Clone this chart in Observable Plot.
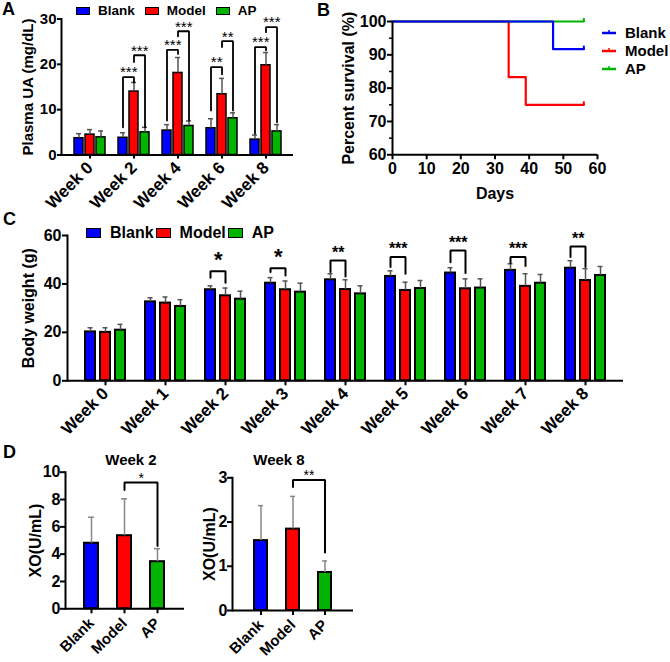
<!DOCTYPE html>
<html><head><meta charset="utf-8">
<script src="https://cdn.jsdelivr.net/npm/d3@7"></script>
<script src="https://cdn.jsdelivr.net/npm/@observablehq/plot@0.6"></script>
<style>
body{margin:0;background:#fff;}
#fig{position:relative;width:670px;height:662px;font-family:"Liberation Sans",Arial,sans-serif;font-weight:bold;color:#000;overflow:hidden;background:#fff}
.leg{display:flex;align-items:center;white-space:nowrap;line-height:1}
.legcol{display:flex;flex-direction:column;white-space:nowrap}
.legcol > div{display:flex;align-items:center;height:18px}
.sw{display:inline-block;box-sizing:border-box;border:1.5px solid #000}
.lab{line-height:1;white-space:nowrap}
</style></head><body><div id="fig"></div>
<script>
// ---------- shared ----------
const groups = ["Blank", "Model", "AP"];
const groupColors = ["#0000ff", "#ff0000", "#00b400"];

// ---------- Panel A: plasma UA ----------
const uaWeeks = ["Week 0", "Week 2", "Week 4", "Week 6", "Week 8"];
const uaBlank = [3.7, 3.8, 5.4, 5.9, 3.4];
const uaBlankSD = [1.0, 1.1, 1.3, 2.1, 1.0];
const uaModel = [4.5, 14.0, 18.1, 13.4, 19.8];
const uaModelSD = [1.1, 2.0, 3.4, 3.5, 2.8];
const uaAP = [3.9, 5.0, 6.4, 8.1, 5.2];
const uaAPSD = [1.4, 1.1, 1.1, 1.2, 1.5];
const uaTicks = [0, 10, 20, 30];
const uaBrWeek = ["Week 2", "Week 2", "Week 4", "Week 4", "Week 6", "Week 6", "Week 8", "Week 8"];
const uaBrFrom = ["Blank", "Model", "Blank", "Model", "Blank", "Model", "Blank", "Model"];
const uaBrTo = ["Model", "AP", "Model", "AP", "Model", "AP", "Model", "AP"];
const uaBrStart = [6.1, 20.5, 7.6, 26.2, 9.8, 23.8, 4.7, 27.1];
const uaBrTop = [17.2, 22.0, 23.2, 27.3, 19.4, 25.1, 23.8, 28.2];
const uaBrEnd = [16.0, 6.1, 22.3, 7.6, 17.8, 9.8, 23.1, 7.2];
const uaBrLabel = ["***", "***", "***", "***", "**", "**", "***", "***"];

// ---------- Panel B: survival ----------
const survBlankDays = [0, 47, 56];
const survBlankPct = [100, 91.7, 91.7];
const survModelDays = [0, 34, 39, 56];
const survModelPct = [100, 83.3, 75, 75];
const survAPDays = [0, 56];
const survAPPct = [100, 100];
const survYTicks = [60, 70, 80, 90, 100];
const survYMinor = [65, 75, 85, 95];
const survXTicks = [0, 10, 20, 30, 40, 50, 60];

// ---------- Panel C: body weight ----------
const bwWeeks = ["Week 0", "Week 1", "Week 2", "Week 3", "Week 4", "Week 5", "Week 6", "Week 7", "Week 8"];
const bwBlank = [20.2, 32.6, 37.6, 40.3, 41.7, 43.1, 44.5, 45.6, 46.5];
const bwBlankSD = [1.7, 1.7, 1.6, 2.3, 2.5, 2.3, 2.2, 2.7, 3.1];
const bwModel = [20.0, 32.1, 35.1, 37.6, 37.7, 37.3, 38.0, 39.0, 41.4];
const bwModelSD = [1.9, 2.5, 3.2, 3.6, 4.0, 3.4, 4.1, 5.2, 4.9];
const bwAP = [20.9, 30.7, 33.7, 36.6, 35.9, 38.1, 38.3, 40.3, 43.5];
const bwAPSD = [2.4, 2.8, 3.3, 3.7, 3.3, 3.3, 3.8, 3.6, 3.7];
const bwTicks = [0, 20, 40, 60];
const bwBrWeek = ["Week 2", "Week 3", "Week 4", "Week 5", "Week 6", "Week 7", "Week 8"];
const bwBrFrom = ["Blank", "Blank", "Blank", "Blank", "Blank", "Blank", "Blank"];
const bwBrTo = ["Model", "Model", "Model", "Model", "Model", "Model", "Model"];
const bwBrStart = [42.6, 44.9, 44.9, 47.0, 49.0, 48.6, 51.1];
const bwBrTop = [45.2, 46.5, 49.7, 51.1, 53.8, 51.1, 55.5];
const bwBrEnd = [40.5, 43.5, 43.1, 44.2, 44.5, 47.4, 47.0];
const bwBrLabel = ["*", "*", "**", "***", "***", "***", "**"];

// ---------- Panel D: XO ----------
const xoW2 = [4.8, 5.35, 3.45];
const xoW2SD = [1.9, 2.7, 0.95];
const xoW2Ticks = [0, 2, 4, 6, 8, 10];
const xoW2Br = {from: "Model", to: "AP", start: 8.7, top: 9.25, end: 4.6, label: "*"};
const xoW8 = [1.58, 1.84, 0.86];
const xoW8SD = [0.79, 0.74, 0.26];
const xoW8Ticks = [0, 1, 2, 3];
const xoW8Br = {from: "Model", to: "AP", start: 2.79, top: 2.95, end: 1.31, label: "**"};

// ---------- helpers ----------
const FONT = '"Liberation Sans", Arial, Helvetica, sans-serif';
const fig = document.getElementById("fig");
function place(el, left, top) { el.style.position = "absolute"; el.style.left = left + "px"; el.style.top = top + "px"; fig.append(el); return el; }
function sty(size) { return {fontFamily: FONT, fontSize: size + "px", fontWeight: "bold", color: "#000", background: "none", overflow: "visible"}; }
const key = (w, g) => w + "|" + g;
function slots(weeks) { const d = []; weeks.forEach((w, i) => { if (i) d.push(key(w, "gap")); groups.forEach(g => d.push(key(w, g))); }); return d; }
function barRows(weeks, series, sds) {
  return weeks.flatMap((w, i) => groups.map((g, j) => ({week: w, group: g, key: key(w, g), value: series[j][i], sd: sds[j][i]})));
}
function brPoints(weeks, from, to, s, t, e) {
  return weeks.flatMap((w, i) => [
    {id: i, key: key(w, from[i]), y: s[i]}, {id: i, key: key(w, from[i]), y: t[i]},
    {id: i, key: key(w, to[i]), y: t[i]}, {id: i, key: key(w, to[i]), y: e[i]}]);
}
function brLabels(weeks, from, t, lab) { return weeks.map((w, i) => ({key: key(w, from[i]), y: t[i], label: lab[i]})); }
function bandStep(width, n, pi, po) { return width / (n - pi + 2 * po); }

// ---------- Panel A ----------
{
  const dom = slots(uaWeeks), pi = 0.2, po = 0.75;
  const step = bandStep(293 - 61, dom.length, pi, po);
  const rows = barRows(uaWeeks, [uaBlank, uaModel, uaAP], [uaBlankSD, uaModelSD, uaAPSD]);
  const p = Plot.plot({
    width: 300, height: 215, marginLeft: 61, marginRight: 7, marginTop: 18.5, marginBottom: 60.5,
    style: sty(15),
    x: {type: "band", domain: dom, paddingInner: pi, paddingOuter: po, axis: null},
    y: {domain: [0, 30], axis: null},
    color: {domain: groups, range: groupColors},
    marks: [
      Plot.barY(rows, {x: "key", y: "value", fill: "group", stroke: "#000", strokeWidth: 1.5}),
      Plot.ruleX(rows, {x: "key", y1: "value", y2: d => d.value + d.sd, stroke: "#555", strokeWidth: 1.5}),
      Plot.tickY(rows, {x: "key", y: d => d.value + d.sd, stroke: "#555", strokeWidth: 1.5, insetLeft: 2, insetRight: 2}),
      Plot.line(brPoints(uaBrWeek, uaBrFrom, uaBrTo, uaBrStart, uaBrTop, uaBrEnd), {x: "key", y: "y", z: "id", stroke: "#000", strokeWidth: 1.8, strokeLinejoin: "miter"}),
      Plot.text(brLabels(uaBrWeek, uaBrFrom, uaBrTop, uaBrLabel), {x: "key", y: "y", text: "label", dx: step / 2, dy: -4.5, fontSize: 15, fontWeight: "normal", fill: "#000"}),
      Plot.ruleY([0], {strokeWidth: 2}),
      Plot.frame({anchor: "left", strokeWidth: 2}),
      Plot.axisY({ticks: uaTicks, tickSize: 4, tickPadding: 1, strokeWidth: 2, label: "Plasma UA (mg/dL)", labelAnchor: "center", labelOffset: 39, labelArrow: "none"}),
      Plot.axisX({ticks: uaWeeks.map(w => key(w, "Model")), tickFormat: k => k.split("|")[0], tickRotate: -45, tickSize: 4, tickPadding: 6, strokeWidth: 2, label: null, fontSize: 17})
    ]
  });
  place(p, 0, 0);
}

// ---------- Panel B ----------
{
  const rows = [
    ...survModelDays.map((d, i) => ({group: "Model", day: d, pct: survModelPct[i]})),
    ...survAPDays.map((d, i) => ({group: "AP", day: d, pct: survAPPct[i]})),
    ...survBlankDays.map((d, i) => ({group: "Blank", day: d, pct: survBlankPct[i]}))
  ];
  const ends = ["Model", "AP", "Blank"].map(g => rows.filter(r => r.group === g).at(-1));
  const p = Plot.plot({
    width: 310, height: 215, marginLeft: 92, marginRight: 13, marginTop: 21, marginBottom: 60.7,
    style: sty(16),
    x: {domain: [0, 60], axis: null},
    y: {domain: [60, 100], axis: null},
    color: {domain: groups, range: groupColors},
    marks: [
      Plot.line(rows, {x: "day", y: "pct", z: "group", stroke: "group", curve: "step-after", strokeWidth: 2.2}),
      Plot.ruleX(ends, {x: "day", y1: "pct", y2: "pct", stroke: "group", strokeWidth: 2, insetTop: -3, insetBottom: -1}),
      Plot.ruleX([0], {strokeWidth: 2}),
      Plot.ruleY([60], {strokeWidth: 2}),
      Plot.axisY({ticks: survYTicks, tickSize: 5, tickPadding: 1, strokeWidth: 2, label: "Percent survival (%)", labelAnchor: "center", labelOffset: 50, labelArrow: "none"}),
      Plot.axisY({ticks: survYMinor, tickSize: 3, strokeWidth: 1.5, tickFormat: () => "", label: null}),
      Plot.axisX({ticks: survXTicks, tickSize: 5, tickPadding: 3, strokeWidth: 2, label: "Days", labelAnchor: "center", labelOffset: 44, labelArrow: "none"})
    ]
  });
  place(p, 300, 0);
}

// ---------- Panel C ----------
{
  const dom = slots(bwWeeks), pi = 0.35, po = 0.675;
  const step = bandStep(623 - 67, dom.length, pi, po);
  const rows = barRows(bwWeeks, [bwBlank, bwModel, bwAP], [bwBlankSD, bwModelSD, bwAPSD]);
  const labs = brLabels(bwBrWeek, bwBrFrom, bwBrTop, bwBrLabel);
  const single = labs.filter(d => d.label.length === 1), multi = labs.filter(d => d.label.length > 1);
  const p = Plot.plot({
    width: 670, height: 232, marginLeft: 67, marginRight: 47, marginTop: 20, marginBottom: 66.7,
    style: sty(15),
    x: {type: "band", domain: dom, paddingInner: pi, paddingOuter: po, axis: null},
    y: {domain: [0, 60], axis: null},
    color: {domain: groups, range: groupColors},
    marks: [
      Plot.barY(rows, {x: "key", y: "value", fill: "group", stroke: "#000", strokeWidth: 2}),
      Plot.ruleX(rows, {x: "key", y1: "value", y2: d => d.value + d.sd, stroke: "#555", strokeWidth: 1.5}),
      Plot.tickY(rows, {x: "key", y: d => d.value + d.sd, stroke: "#555", strokeWidth: 1.5, insetLeft: 2.5, insetRight: 2.5}),
      Plot.line(brPoints(bwBrWeek, bwBrFrom, bwBrTo, bwBrStart, bwBrTop, bwBrEnd), {x: "key", y: "y", z: "id", stroke: "#000", strokeWidth: 2, strokeLinejoin: "miter"}),
      Plot.text(single, {x: "key", y: "y", text: "label", dx: step / 2, dy: -11, fontSize: 22, fontWeight: "bold", fill: "#000"}),
      Plot.text(multi, {x: "key", y: "y", text: "label", dx: step / 2, dy: -8, fontSize: 16, fontWeight: "bold", fill: "#000"}),
      Plot.ruleY([0], {strokeWidth: 2}),
      Plot.frame({anchor: "left", strokeWidth: 2}),
      Plot.axisY({ticks: bwTicks, tickSize: 5, tickPadding: 1, strokeWidth: 2, label: "Body weight (g)", labelAnchor: "center", labelOffset: 45, labelArrow: "none", fontSize: 16}),
      Plot.axisX({ticks: bwWeeks.map(w => key(w, "Model")), tickFormat: k => k.split("|")[0], tickRotate: -45, tickSize: 5, tickPadding: 5, strokeWidth: 2, label: null, fontSize: 17})
    ]
  });
  place(p, 0, 215);
}

// ---------- Panel D ----------
function xoPlot(values, sds, ticks, br, o) {
  const rows = groups.map((g, j) => ({group: g, key: g, value: values[j], sd: sds[j]}));
  const step = bandStep(o.w - o.ml - o.mr, 3, o.pi, o.po);
  const pts = [
    {key: br.from, y: br.start}, {key: br.from, y: br.top},
    {key: br.to, y: br.top}, {key: br.to, y: br.end}];
  return Plot.plot({
    width: o.w, height: o.h, marginLeft: o.ml, marginRight: o.mr, marginTop: o.mt, marginBottom: o.mb,
    style: sty(15),
    x: {type: "band", domain: groups, paddingInner: o.pi, paddingOuter: o.po, axis: null},
    y: {domain: [0, ticks.at(-1)], axis: null},
    color: {domain: groups, range: groupColors},
    marks: [
      Plot.barY(rows, {x: "key", y: "value", fill: "group", stroke: "#000", strokeWidth: 2}),
      Plot.ruleX(rows, {x: "key", y1: "value", y2: d => d.value + d.sd, stroke: "#888", strokeWidth: 1.5}),
      Plot.tickY(rows, {x: "key", y: d => d.value + d.sd, stroke: "#888", strokeWidth: 1.5, insetLeft: 4, insetRight: 4}),
      Plot.line(pts, {x: "key", y: "y", stroke: "#000", strokeWidth: 2, strokeLinejoin: "miter"}),
      Plot.text([br], {x: "from", y: "top", text: "label", dx: step / 2, dy: -4, fontSize: 14, fontWeight: "normal", fill: "#000"}),
      Plot.ruleY([0], {strokeWidth: 2}),
      Plot.frame({anchor: "left", strokeWidth: 2}),
      Plot.axisY({ticks, tickFormat: d => String(d), tickSize: 5, tickPadding: 0, strokeWidth: 2, label: "XO(U/mL)", labelAnchor: "center", labelOffset: o.lo, labelArrow: "none", fontSize: 16}),
      Plot.axisX({ticks: groups, tickRotate: -45, tickSize: 5, tickPadding: 7, strokeWidth: 2, label: null, fontSize: 15})
    ]
  });
}
place(xoPlot(xoW2, xoW2SD, xoW2Ticks, xoW2Br, {w: 200, h: 222, ml: 65, mr: 16, mt: 31.7, mb: 53.7, pi: 0.57, po: 0.575, lo: 36}), 0, 440);
place(xoPlot(xoW8, xoW8SD, xoW8Ticks, xoW8Br, {w: 170, h: 222, ml: 32, mr: 17, mt: 37.3, mb: 52, pi: 0.58, po: 0.68, lo: 29}), 200, 440);

// ---------- HTML text: panel letters, titles, legends ----------
function label(text, left, top, size, extra) {
  const d = document.createElement("div"); d.className = "lab"; d.textContent = text; d.style.fontSize = size + "px";
  if (extra) Object.assign(d.style, extra);
  return place(d, left, top);
}
label("A", 2, 0, 18); label("B", 317, 1, 18); label("C", 3, 210, 18); label("D", 3, 443, 18);
label("Week 2", 131, 452, 15, {transform: "translateX(-50%)"});
label("Week 8", 279, 452, 15, {transform: "translateX(-50%)"});

function boxLegend(left, top, size, swW, swH, gapSw, gapItem) {
  const div = document.createElement("div"); div.className = "leg"; div.style.fontSize = size + "px";
  groups.forEach((g, i) => {
    const sw = document.createElement("span"); sw.className = "sw";
    Object.assign(sw.style, {width: swW + "px", height: swH + "px", background: groupColors[i], marginRight: gapSw + "px"});
    const t = document.createElement("span"); t.textContent = g; t.style.marginRight = gapItem + "px";
    div.append(sw, t);
  });
  place(div, left, top);
}
boxLegend(76, 4, 13.5, 14, 8, 8, 10);
boxLegend(86, 224.5, 16, 15, 10, 9, 2);

{
  const col = document.createElement("div"); col.className = "legcol"; col.style.fontSize = "15px";
  groups.forEach((g, i) => {
    const row = document.createElement("div");
    const ns = "http://www.w3.org/2000/svg";
    const s = document.createElementNS(ns, "svg"); s.setAttribute("width", 14); s.setAttribute("height", 8); s.style.marginRight = "9px";
    const l1 = document.createElementNS(ns, "line"); Object.entries({x1: 0, x2: 14, y1: 5, y2: 5, stroke: groupColors[i], "stroke-width": 2.5}).forEach(([k, v]) => l1.setAttribute(k, v));
    const l2 = document.createElementNS(ns, "line"); Object.entries({x1: 7, x2: 7, y1: 2, y2: 5, stroke: groupColors[i], "stroke-width": 1.5}).forEach(([k, v]) => l2.setAttribute(k, v));
    s.append(l1, l2);
    const t = document.createElement("span"); t.textContent = g;
    row.append(s, t); col.append(row);
  });
  place(col, 602, 23.1);
}
</script></body></html>
